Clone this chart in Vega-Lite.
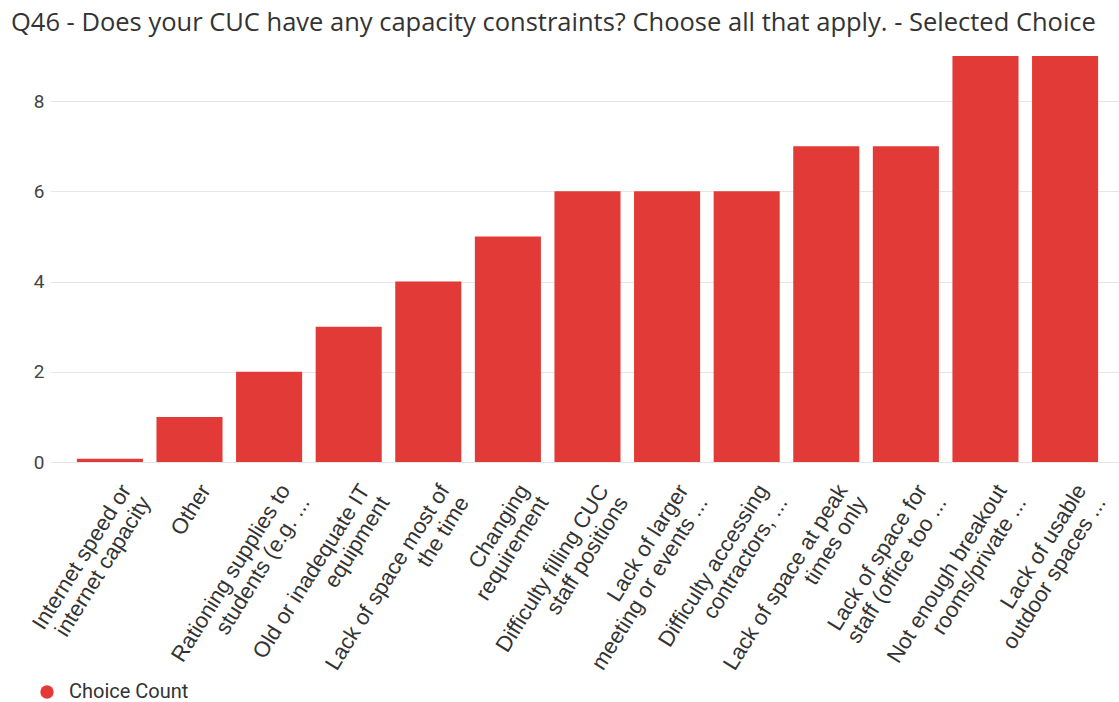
{
  "$schema": "https://vega.github.io/schema/vega-lite/v6.json",
  "width": 1069,
  "height": 406,
  "autosize": {"type": "none"},
  "padding": {"left": 50, "top": 56, "right": 0, "bottom": 240},
  "background": "#ffffff",
  "title": {
    "text": "Q46 - Does your CUC have any capacity constraints? Choose all that apply. - Selected Choice",
    "anchor": "start",
    "frame": "group",
    "dx": -39,
    "offset": 20,
    "font": "Open Sans",
    "fontSize": 25.5,
    "fontWeight": "normal",
    "color": "#333333"
  },
  "data": {
    "values": [
      {"choice": "Internet speed or\ninternet capacity", "count": 0.07},
      {"choice": "Other", "count": 1},
      {"choice": "Rationing supplies to\nstudents (e.g. ...", "count": 2},
      {"choice": "Old or inadequate IT\nequipment", "count": 3},
      {"choice": "Lack of space most of\nthe time", "count": 4},
      {"choice": "Changing\nrequirement", "count": 5},
      {"choice": "Difficulty filling CUC\nstaff positions", "count": 6},
      {"choice": "Lack of larger\nmeeting or events ...", "count": 6},
      {"choice": "Difficulty accessing\ncontractors, ...", "count": 6},
      {"choice": "Lack of space at peak\ntimes only", "count": 7},
      {"choice": "Lack of space for\nstaff (office too ...", "count": 7},
      {"choice": "Not enough breakout\nrooms/private ...", "count": 9},
      {"choice": "Lack of usable\noutdoor spaces ...", "count": 9}
    ]
  },
  "mark": {"type": "bar", "cornerRadius": 0},
  "encoding": {
    "x": {
      "field": "choice",
      "type": "nominal",
      "sort": null,
      "scale": {"paddingInner": 0.17, "paddingOuter": 0.3, "align": 0.5625},
      "axis": {
        "title": null,
        "labelAngle": -58,
        "labelExpr": "split(datum.label, '\\n')",
        "labelFont": "Liberation Sans",
        "labelFontSize": 22,
        "labelColor": "#333333",
        "labelLineHeight": 23,
        "labelPadding": 24,
        "labelOffset": 16,
        "labelLimit": 400,
        "ticks": false,
        "domain": false,
        "grid": false
      }
    },
    "y": {
      "field": "count",
      "type": "quantitative",
      "scale": {"domain": [0, 9], "nice": false},
      "axis": {
        "title": null,
        "values": [0, 2, 4, 6, 8],
        "labelFont": "Roboto",
        "labelFontSize": 19,
        "labelColor": "#444444",
        "labelPadding": 6,
        "ticks": false,
        "domain": false,
        "grid": true,
        "gridColor": "#e6e6e6",
        "gridWidth": 1
      }
    },
    "color": {
      "datum": "Choice Count",
      "type": "nominal",
      "scale": {"range": ["#e23a36"]},
      "legend": {
        "title": null,
        "orient": "none",
        "legendX": -13,
        "legendY": 626,
        "symbolType": "circle",
        "symbolSize": 180,
        "symbolStrokeWidth": 0,
        "labelFont": "Roboto",
        "labelFontSize": 20,
        "labelColor": "#333333",
        "labelOffset": 12
      }
    }
  },
  "config": {
    "view": {"stroke": null}
  }
}
